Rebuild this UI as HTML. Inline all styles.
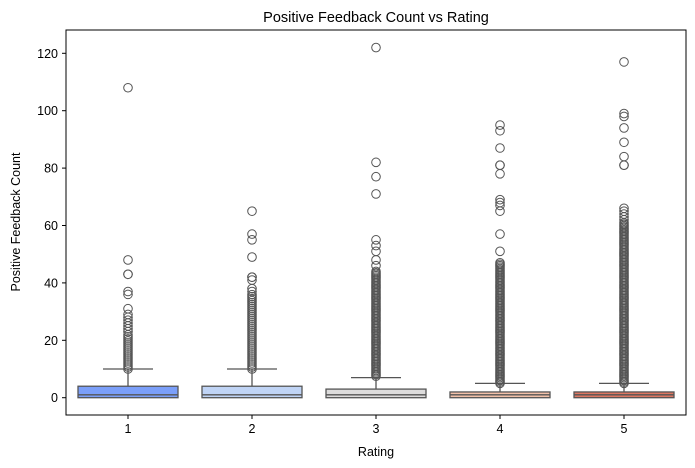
<!DOCTYPE html>
<html><head><meta charset="utf-8"><style>
body{margin:0;background:#fff;}
svg{display:block;font-family:"Liberation Sans",sans-serif;}
</style></head><body>
<svg id="s" width="695" height="468" xmlns="http://www.w3.org/2000/svg">
<rect width="695" height="468" fill="#fff"/>
<text x="376" y="22" font-size="14.5" text-anchor="middle">Positive Feedback Count vs Rating</text>
<text x="376" y="456" font-size="12.5" text-anchor="middle">Rating</text>
<text x="20" y="222" font-size="12.5" text-anchor="middle" transform="rotate(-90 20 222)">Positive Feedback Count</text>
<g id="g"></g>
<rect x="66" y="30" width="620" height="385" fill="none" stroke="#000" stroke-width="1"/>
</svg>
<script>
var g=document.getElementById('g'),h='';
function Y(v){return 397.7-v*2.87;}
for(var t=0;t<=120;t+=20){var y=Y(t);h+='<line x1="62" x2="66" y1="'+y+'" y2="'+y+'" stroke="#000"/><text x="58" y="'+(y+4.5)+'" font-size="12.5" text-anchor="end">'+t+'</text>';}
var cs=[128,252,376,500,624];
var data=[
 {c:'#7b9ff9',q3:4,med:1,cap:10,d0:10,d1:22,step:0.7,ex:[23,24,25,26,27,28,29,31,36,37,43,43,48,108]},
 {c:'#c0d4f5',q3:4,med:1,cap:10,d0:10,d1:36,step:0.7,ex:[37,38,41,42,42,49,55,57,65]},
 {c:'#dddcdc',q3:3,med:1,cap:7,d0:7.5,d1:44,step:0.5,ex:[46,48,51,53,55,71,77,82,122]},
 {c:'#f2c1a9',q3:2,med:1,cap:5,d0:5,d1:47,step:0.5,ex:[51,57,65,67,68,69,78,81,81,87,93,95]},
 {c:'#dd7762',q3:2,med:1,cap:5,d0:5,d1:61,step:0.5,ex:[62,63,64,65,66,81,81,84,89,94,98,99,117]}];
data.forEach(function(d,i){var x=cs[i];
 h+='<line x1="'+x+'" x2="'+x+'" y1="'+Y(d.q3)+'" y2="'+Y(d.cap)+'" stroke="#555" stroke-width="1.3"/>';
 h+='<line x1="'+(x-25)+'" x2="'+(x+25)+'" y1="'+Y(d.cap)+'" y2="'+Y(d.cap)+'" stroke="#555" stroke-width="1.3"/>';
 h+='<rect x="'+(x-50)+'" y="'+Y(d.q3)+'" width="100" height="'+(Y(0)-Y(d.q3))+'" fill="'+d.c+'" stroke="#555" stroke-width="1.3"/>';
 h+='<line x1="'+(x-50)+'" x2="'+(x+50)+'" y1="'+Y(d.med)+'" y2="'+Y(d.med)+'" stroke="#555" stroke-width="1.3"/>';
 for(var v=d.d0;v<=d.d1;v+=d.step){ h+='<circle cx="'+x+'" cy="'+Y(v)+'" r="4.3" fill="none" stroke="#555" stroke-width="1"/>';}
 d.ex.forEach(function(v){h+='<circle cx="'+x+'" cy="'+Y(v)+'" r="4.3" fill="none" stroke="#555" stroke-width="1"/>';});
 h+='<line x1="'+x+'" x2="'+x+'" y1="415" y2="419" stroke="#000"/><text x="'+x+'" y="433" font-size="12.5" text-anchor="middle">'+(i+1)+'</text>';
});
g.innerHTML=h;
</script>
</body></html>
